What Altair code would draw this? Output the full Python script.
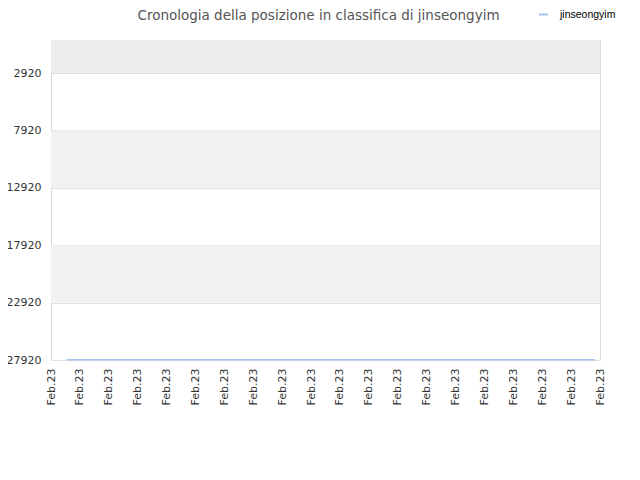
import altair as alt
import pandas as pd

series_name = "jinseongyim"
tick_values = [2920, 7920, 12920, 17920, 22920, 27920]
x_ticks = list(range(20))
x_label = "Feb.23"
line_x = [0.55, 18.83]
line_y = [27890, 27890]

band_lo = [45, 7920, 17920]
band_hi = [2920, 12920, 22920]
band_fill = ["#ececec", "#f2f2f2", "#f2f2f2"]

bands = pd.DataFrame({"lo": band_lo, "hi": band_hi, "fill": band_fill})
line = pd.DataFrame({"x": line_x, "y": line_y, "s": [series_name] * len(line_x)})

yscale = alt.Scale(domain=[45, 27920], reverse=True, nice=False, zero=False)
xscale = alt.Scale(domain=[0, 19], nice=False, zero=False)

band_layer = alt.Chart(bands).mark_rect().encode(
    y=alt.Y("lo:Q", scale=yscale,
            axis=alt.Axis(values=tick_values, format="d", title=None, grid=True,
                          gridColor="#e0e0e0", ticks=False, domain=False,
                          labelFontSize=11, labelColor="#333333", labelPadding=10,
                          labelFont="DejaVu Sans")),
    y2="hi:Q",
    x=alt.value(0),
    x2=alt.value(549),
    fill=alt.Fill("fill:N", scale=None, legend=None),
)

line_layer = alt.Chart(line).mark_line(strokeWidth=1.5).encode(
    x=alt.X("x:Q", scale=xscale,
            axis=alt.Axis(values=x_ticks, labelExpr="'" + x_label + "'", title=None,
                          grid=False, ticks=False, domain=False, labelAngle=270,
                          labelFontSize=11, labelColor="#333333", labelPadding=8,
                          labelFont="DejaVu Sans")),
    y=alt.Y("y:Q", scale=yscale),
    color=alt.Color("s:N", scale=alt.Scale(domain=[series_name], range=["#a3c6ee"]),
                    legend=alt.Legend(title=None, orient="none", legendX=487, legendY=-31,
                                      symbolType="stroke", symbolSize=81, symbolStrokeWidth=2,
                                      labelOffset=11,
                                      labelFontSize=10.5, labelColor="#000000",
                                      labelFont="Liberation Sans")),
)

chart = alt.layer(band_layer, line_layer).resolve_scale(color="independent").properties(
    width=549, height=320,
    padding={"left": 43, "top": 32, "right": 32, "bottom": 120},
    autosize=alt.AutoSizeParams(type="none"),
    title=alt.TitleParams("Cronologia della posizione in classifica di jinseongyim",
                          fontSize=13.5, font="DejaVu Sans", fontWeight="normal",
                          color="#555555", anchor="middle", offset=16, dx=-7, dy=29),
).configure_view(stroke="#d8d8d8", strokeWidth=1)

chart.save("out.html", embed_options={"renderer": "svg", "actions": False})
